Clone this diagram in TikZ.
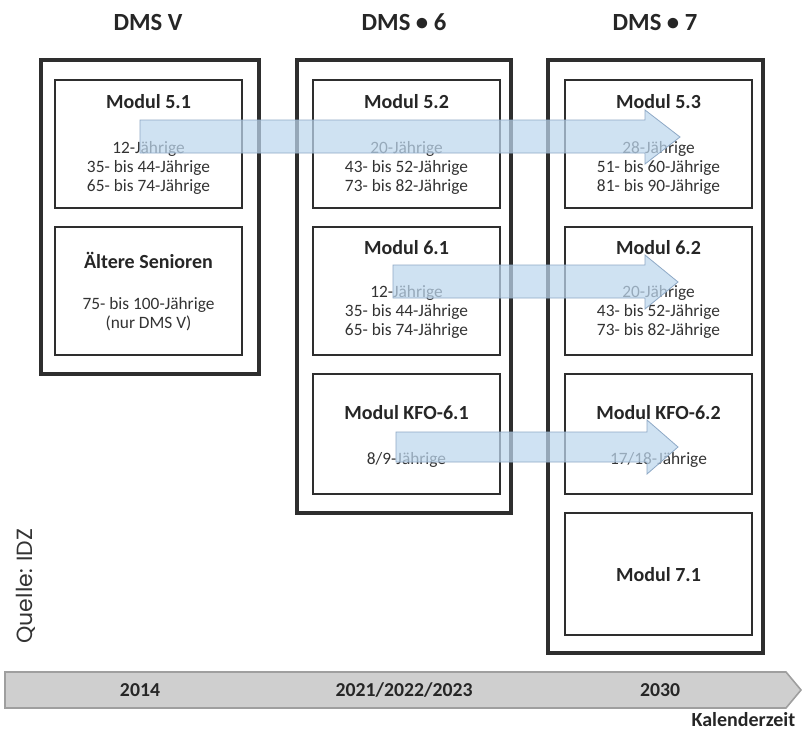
\documentclass[tikz,border=0pt]{standalone}
\usepackage{fontspec}
\setmainfont{Carlito}
\newfontfamily\quellefont{Poppins}
\usepackage{tikz}

\definecolor{rahmen}{HTML}{2E2E2E}
\definecolor{pfeilblau}{HTML}{BDD7EE}
\definecolor{pfeilrand}{HTML}{8EA9C6}
\definecolor{textgrau}{HTML}{333333}

\tikzset{
  aussen/.style={draw=rahmen,line width=2.3pt,fill=white,inner sep=0pt},
  modul/.style={draw=rahmen,line width=1.9pt,fill=white,inner sep=0pt,
    minimum width=140.25pt},
  titel/.style={font=\bfseries\fontsize{15}{17}\selectfont,text=black!85},
  kopf/.style={font=\bfseries\fontsize{18.5}{20}\selectfont,text=black!85},
  alter/.style={font=\fontsize{13}{14.25}\selectfont,text=textgrau,align=center},
  zeitpfeil/.style={fill=pfeilblau,fill opacity=0.72,draw=pfeilrand,line width=0.6pt},
  jahr/.style={font=\bfseries\fontsize{14.8}{16}\selectfont,text=black!85}
}

\begin{document}
\begin{tikzpicture}[x=0.75pt,y=-0.75pt]
  \useasboundingbox (0,0) rectangle (802,732);

  % Spaltenueberschriften
  \node[kopf] (kopf5) at (148,22) {DMS V};
  \node[kopf] (kopf6) at (404,22) {DMS • 6};
  \node[kopf] (kopf7) at (655,22) {DMS • 7};

  % Studienrahmen
  \node[aussen,minimum width=163.5pt,minimum height=235.5pt] (dms5) at (150,217) {};
  \node[aussen,minimum width=160.5pt,minimum height=339.75pt] (dms6) at (404,286.5) {};
  \node[aussen,minimum width=161.25pt,minimum height=444.75pt] (dms7) at (655.5,356.5) {};

  % Module DMS V
  \node[modul,minimum height=96pt] (m51) at (148.5,144) {};
  \node[modul,minimum height=96pt] (senioren) at (148.5,291) {};
  % Module DMS 6
  \node[modul,minimum height=96pt] (m52) at (406.5,144) {};
  \node[modul,minimum height=96pt] (m61) at (406.5,291) {};
  \node[modul,minimum height=90pt] (kfo61) at (406.5,434) {};
  % Module DMS 7
  \node[modul,minimum height=96pt] (m53) at (658.5,144) {};
  \node[modul,minimum height=96pt] (m62) at (658.5,291) {};
  \node[modul,minimum height=90pt] (kfo62) at (658.5,434) {};
  \node[modul,minimum height=91.5pt] (m71) at (658.5,574) {};

  % Beschriftung der Module
  \node[titel] (t51) at (148.5,102) {Modul 5.1};
  \node[alter] (a51) at (148.5,168) {12-Jährige\\35- bis 44-Jährige\\65- bis 74-Jährige};
  \node[titel] (tsen) at (148.5,260) {Ältere Senioren};
  \node[alter] (asen) at (148.5,314) {75- bis 100-Jährige\\(nur DMS V)};

  \node[titel] (t52) at (406.5,102) {Modul 5.2};
  \node[alter] (a52) at (406.5,168) {20-Jährige\\43- bis 52-Jährige\\73- bis 82-Jährige};
  \node[titel] (t61) at (406.5,248) {Modul 6.1};
  \node[alter] (a61) at (406.5,312) {12-Jährige\\35- bis 44-Jährige\\65- bis 74-Jährige};
  \node[titel] (tk61) at (406.5,413) {Modul KFO-6.1};
  \node[alter] (ak61) at (406.5,460) {8/9-Jährige};

  \node[titel] (t53) at (658.5,102) {Modul 5.3};
  \node[alter] (a53) at (658.5,168) {28-Jährige\\51- bis 60-Jährige\\81- bis 90-Jährige};
  \node[titel] (t62) at (658.5,248) {Modul 6.2};
  \node[alter] (a62) at (658.5,312) {20-Jährige\\43- bis 52-Jährige\\73- bis 82-Jährige};
  \node[titel] (tk62) at (658.5,413) {Modul KFO-6.2};
  \node[alter] (ak62) at (658.5,460) {17/18-Jährige};
  \node[titel] (t71) at (658.5,575) {Modul 7.1};

  % Kohortenpfeile
  \draw[zeitpfeil] (140,120) -- (645,120) -- (645,110) -- (680,137)
    -- (645,164) -- (645,153) -- (140,153) -- cycle;
  \draw[zeitpfeil] (393,265) -- (645,265) -- (645,255) -- (678,282)
    -- (645,309) -- (645,298) -- (393,298) -- cycle;
  \draw[zeitpfeil] (396,432) -- (647,432) -- (647,420) -- (678,447)
    -- (647,474) -- (647,462) -- (396,462) -- cycle;

  % Zeitachse
  \draw[fill=gray!38,draw=gray!75,line width=1.2pt]
    (5,672) -- (786,672) -- (801,690) -- (786,708) -- (5,708) -- cycle;
  \node[jahr] (j2014) at (140,690) {2014};
  \node[jahr] (j2021) at (404,690) {2021/2022/2023};
  \node[jahr] (j2030) at (660,690) {2030};
  \node[font=\bfseries\fontsize{15}{17}\selectfont,text=black!85,anchor=east] (kalender) at (800,720) {Kalenderzeit};

  % Quelle
  \node[font=\quellefont\fontsize{16.5}{18}\selectfont,text=black!80,rotate=90] (quelle) at (26,586) {Quelle: IDZ};
\end{tikzpicture}
\end{document}
